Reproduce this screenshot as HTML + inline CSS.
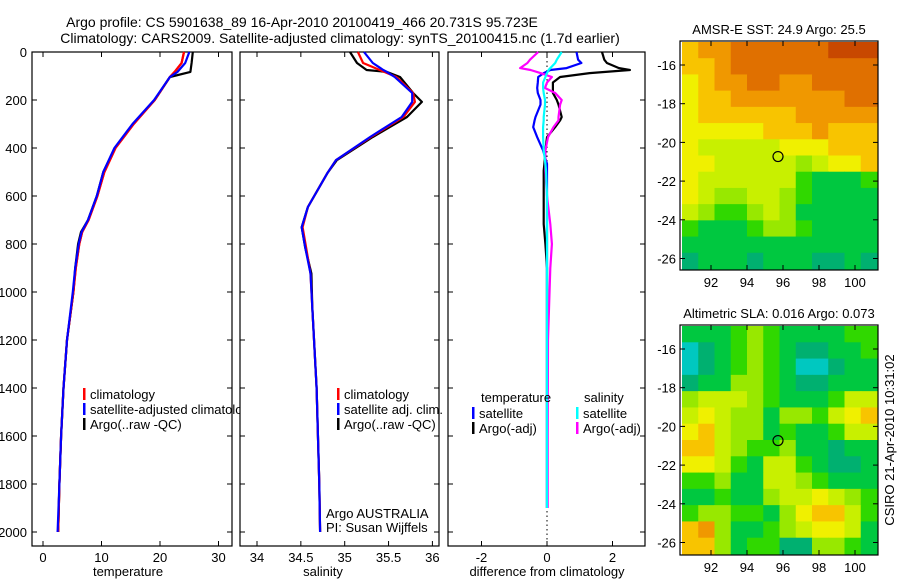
<!DOCTYPE html>
<html><head><meta charset="utf-8"><style>
body{margin:0;background:#fff}
svg{display:block;font-family:"Liberation Sans",sans-serif}
</style></head><body>
<svg id="fig" width="900" height="580" viewBox="0 0 900 580" xmlns="http://www.w3.org/2000/svg">
<rect width="900" height="580" fill="#fff"/>
<text x="302" y="27" font-size="14" text-anchor="middle">Argo profile: CS 5901638_89 16-Apr-2010 20100419_466 20.731S 95.723E</text>
<text x="340" y="43" font-size="14" text-anchor="middle">Climatology: CARS2009. Satellite-adjusted climatology: synTS_20100415.nc (1.7d earlier)</text>
<g id="g1"></g>
</svg>
<script>
// ---- data ----
const tDepth   = [0,46,83,104,200,300,400,500,600,700,750,800,900,1000,1200,1400,1600,1800,2000];
const tArgo    = [25.6,25.4,25.2,21.7,19.1,15.4,12.3,10.3,9.2,7.7,6.5,6.0,5.5,5.2,4.1,3.5,3.1,2.8,2.6];
const tClim    = [24.1,23.7,22.5,21.7,19.1,15.5,12.4,10.5,9.3,7.8,6.7,6.2,5.6,5.2,4.1,3.5,3.1,2.8,2.6];
const tSat     = [25.0,24.3,23.0,21.7,19.0,15.3,12.2,10.3,9.2,7.7,6.6,6.1,5.5,5.1,4.1,3.5,3.1,2.8,2.5];
const sDepth   = [0,46,75,83,104,171,208,271,354,451,506,646,730,814,923,1064,1400,1800,2000];
const sArgo    = [35.06,35.14,35.25,35.48,35.63,35.78,35.88,35.71,35.32,34.91,34.80,34.58,34.51,34.55,34.62,34.63,34.68,34.71,34.72];
const sClim    = [35.15,35.21,35.40,35.45,35.59,35.78,35.80,35.67,35.30,34.90,34.80,34.58,34.52,34.56,34.61,34.63,34.68,34.71,34.72];
const sSat     = [35.22,35.32,35.44,35.48,35.57,35.77,35.77,35.65,35.29,34.90,34.80,34.58,34.51,34.55,34.61,34.63,34.68,34.71,34.72];
const dDepth   = [0,32,46,67,75,88,104,127,150,171,200,219,271,285,313,355,410,466,494,600,717,800,900,1200,1600,1900];
const dTArgo   = [1.68,1.75,1.83,2.2,2.53,1.3,0.4,0.18,0.18,0.18,0.3,0.35,0.45,0.4,0.25,0.0,-0.05,-0.08,-0.1,-0.1,-0.1,-0.05,0.0,0.0,0.0,0.0];
const dTSat    = [0.9,0.95,1.05,0.6,0.1,-0.1,-0.27,-0.28,-0.3,-0.28,-0.2,-0.2,-0.35,-0.38,-0.42,-0.3,-0.12,0.0,0.0,0.0,0.0,0.0,0.0,0.0,0.0,0.0];
const dSArgo   = [-0.27,-0.52,-0.6,-0.82,-0.5,-0.2,0.15,0.0,-0.06,0.25,0.45,0.4,0.35,0.35,0.2,0.03,-0.05,-0.05,-0.05,0.0,0.1,0.15,0.1,0.03,0.02,0.02];
const dSSat    = [0.45,0.3,0.25,0.1,0.05,0.0,-0.05,-0.12,-0.12,-0.1,-0.06,-0.06,-0.1,-0.1,-0.12,-0.12,-0.1,-0.05,-0.03,0.0,0.0,0.0,0.0,0.0,0.0,0.0];
const depthTicks = [0,200,400,600,800,1000,1200,1400,1600,1800,2000];
const tempTicks = [0,10,20,30];
const salTicks = [34,34.5,35,35.5,36];
const diffTicks = [-2,0,2];
const latTicks = [-16,-18,-20,-22,-24,-26];
const lonTicks = [92,94,96,98,100];
const sstGrid = [
"788999999aaa","778999999999","678899889999","677888888899","677777788888",
"666667778777","655555666777","665555545667","655555532223","654455432222",
"543345422222","322234432222","222222222222","122212221121"];
const slaGrid = [
"222343222233","012343211223","012343200122","122443211222","455543222355",
"565442443567","675442322355","775433422122","665325532112","334225543222",
"223224556543","344332467753","784223456652","774233114432"];
const argoLon = 95.723, argoLat = -20.731;

// ---- helpers ----
const NS="http://www.w3.org/2000/svg";
const root=document.getElementById('g1');
function mk(tag,attrs,parent){const e=document.createElementNS(NS,tag);for(const k in attrs)e.setAttribute(k,attrs[k]);(parent||root).appendChild(e);return e;}
const Y=d=>52+d*0.24;
const xT=t=>43+t*5.85;
const xS=s=>257+(s-34)*87.7;
const xD=v=>547+v*32.75;
function line(xs,ds,xf,color,name){
  const p=xs.map((v,i)=>(i?'L':'M')+xf(v).toFixed(1)+' '+Y(ds[i]).toFixed(1)).join(' ');
  const e=mk('path',{d:p,fill:'none',stroke:color,'stroke-width':2.2,'stroke-linejoin':'round'});
  
  
}
function panel(x0,x1,ticks,xf,labels,name,xlabel,xlabelX){
  const r=mk('rect',{x:x0,y:52,width:x1-x0,height:494,fill:'#fff',stroke:'#000','stroke-width':1.2});
  
  
  depthTicks.forEach(d=>{
    mk('line',{x1:x0,x2:x0+5,y1:Y(d),y2:Y(d),stroke:'#000'});
    mk('line',{x1:x1-5,x2:x1,y1:Y(d),y2:Y(d),stroke:'#000'});
    if(labels){const t=mk('text',{x:x0-5,y:Y(d)+5,'font-size':13,'text-anchor':'end'});t.textContent=d;
      
      }
  });
  ticks.forEach(v=>{
    mk('line',{x1:xf(v),x2:xf(v),y1:546,y2:541,stroke:'#000'});
    mk('line',{x1:xf(v),x2:xf(v),y1:52,y2:57,stroke:'#000'});
    const t=mk('text',{x:xf(v),y:562,'font-size':13,'text-anchor':'middle'});t.textContent=v;
    
    
  });
  const l=mk('text',{x:xlabelX,y:576,'font-size':13,'text-anchor':'middle'});l.textContent=xlabel;
  
  
}
function legend(x,y,color,txt){
  mk('rect',{x:x,y:y-10,width:2.5,height:12,fill:color});
  const t=mk('text',{x:x+7,y:y+1,'font-size':13});t.textContent=txt;
  
  
}
// panel 1
panel(32,232,tempTicks,xT,true,'temperature-panel','temperature',128);
line(tClim,tDepth,xT,'#f00','climatology-temp-line');
line(tArgo,tDepth,xT,'#000','argo-temp-line');
line(tClim,tDepth,xT,'#f00','climatology-temp-line');
line(tSat,tDepth,xT,'#00f','satellite-temp-line');
legend(83,398,'#f00','climatology');legend(83,413,'#00f','satellite-adjusted climatology');legend(83,428,'#000','Argo(..raw -QC)');
// panel 2
panel(240,439,salTicks,xS,false,'salinity-panel','salinity',323);
line(sArgo,sDepth,xS,'#000','argo-salinity-line');
line(sClim,sDepth,xS,'#f00','climatology-salinity-line');
line(sSat,sDepth,xS,'#00f','satellite-salinity-line');
legend(337,398,'#f00','climatology');legend(337,413,'#00f','satellite adj. clim.');legend(337,428,'#000','Argo(..raw -QC)');
let t=mk('text',{x:326,y:518,'font-size':13});t.textContent='Argo AUSTRALIA';


t=mk('text',{x:326,y:532,'font-size':13});t.textContent='PI: Susan Wijffels';


// panel 3
panel(448,645,diffTicks,xD,false,'difference-panel','difference from climatology',547);
mk('line',{x1:547,x2:547,y1:52,y2:546,stroke:'#000','stroke-dasharray':'1.5 3'});
line(dTArgo,dDepth,xD,'#000','argo-temp-diff-line');
line(dTSat,dDepth,xD,'#00f','satellite-temp-diff-line');
line(dSArgo,dDepth,xD,'#f0f','argo-salinity-diff-line');
line(dSSat,dDepth,xD,'#0ff','satellite-salinity-diff-line');
t=mk('text',{x:481,y:402,'font-size':13});t.textContent='temperature';


t=mk('text',{x:584,y:402,'font-size':13});t.textContent='salinity';


legend(472,417,'#00f','satellite');legend(472,432,'#000','Argo(-adj)');
legend(576,417,'#0ff','satellite');legend(576,432,'#f0f','Argo(-adj)');
// maps
const cmap={'0':'#00c8c0','1':'#00b070','2':'#00c840','3':'#30d800','4':'#98e800','5':'#c8f000','6':'#f0f000','7':'#f8c400','8':'#f09800','9':'#e07000','a':'#c84800'};
function map(top,bot,lat16,grid,title,name,showLon){
  const x0=682,x1=877;
  const lx=lon=>711+(lon-92)*18;
  const ly=lat=>lat16+(-16-lat)*19.35;
  const rows=grid.length,cols=grid[0].length,cw=(x1-x0)/cols,ch=(bot-top)/rows;
  const g=mk('g',{});
  
  
  grid.forEach((row,i)=>{for(let j=0;j<cols;j++){
    const c=mk('rect',{x:(x0+j*cw).toFixed(2),y:(top+i*ch).toFixed(2),width:(cw+0.5).toFixed(2),height:(ch+0.5).toFixed(2),fill:cmap[row[j]]},g);
    
    
  }});
  mk('rect',{x:x0-2,y:top-1,width:x1-x0+3,height:bot-top+2,fill:'none',stroke:'#000','stroke-width':1.2});
  latTicks.forEach(l=>{
    mk('line',{x1:x0-2,x2:x0+3,y1:ly(l),y2:ly(l),stroke:'#000'});
    mk('line',{x1:x1-4,x2:x1+1,y1:ly(l),y2:ly(l),stroke:'#000'});
    const tt=mk('text',{x:676,y:ly(l)+5,'font-size':13,'text-anchor':'end'});tt.textContent=l;
    
    
  });
  lonTicks.forEach(l=>{
    mk('line',{x1:lx(l),x2:lx(l),y1:top-1,y2:top+4,stroke:'#000'});
    mk('line',{x1:lx(l),x2:lx(l),y1:bot+1,y2:bot-4,stroke:'#000'});
    const tt=mk('text',{x:lx(l),y:bot+18,'font-size':13,'text-anchor':'middle'});tt.textContent=l;
    
    
  });
  const c=mk('circle',{cx:lx(argoLon),cy:ly(argoLat),r:5,fill:'none',stroke:'#000','stroke-width':1.2});
  
  
  const tt=mk('text',{x:779,y:top-8,'font-size':13,'text-anchor':'middle'});tt.textContent=title;
  
  
}
map(42,269,65,sstGrid,'AMSR-E SST: 24.9 Argo: 25.5','sst-map',true);
map(326,554,349,slaGrid,'Altimetric SLA: 0.016 Argo: 0.073','sla-map',true);
t=mk('text',{x:0,y:0,'font-size':13,'text-anchor':'middle',transform:'translate(894,440) rotate(-90)'});t.textContent='CSIRO 21-Apr-2010 10:31:02';


</script>
</body></html>
